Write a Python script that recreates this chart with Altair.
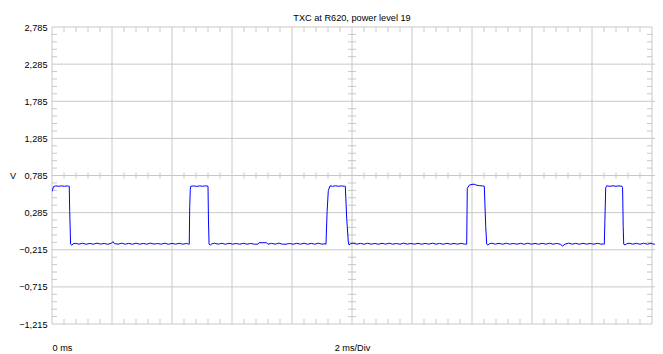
import altair as alt
import pandas as pd

FONT = "Liberation Sans"
FS = 9.2
GRID = "#c8c8c8"
TRACE = "#0000ff"

TITLE = "TXC at R620, power level 19"
Y_TICKS = [-1.215, -0.715, -0.215, 0.285, 0.785, 1.285, 1.785, 2.285, 2.785]
X_MAJOR = [0, 2, 4, 6, 8, 10, 12, 14, 16, 18, 20]
X_LABEL_POS = [0, 10]
X_LABELS = ["0 ms", "2 ms/Div"]
PLOT_W = 603
X_END = PLOT_W / 30.0  # visible time span (ms) of the drawing area
Y_MIN, Y_MAX, Y_CENTER = -1.215, 2.785, 0.785
X_FRAME_END, X_CENTER = 20, 10

# minor tick positions (5 per division)
X_MINOR = [round(i * 0.4, 2) for i in range(1, 50) if i % 5]
Y_MINOR = [round(Y_MIN + i * 0.1, 3) for i in range(1, 40) if i % 5]

# ---- trace (time in ms, volts) ----
pulse1 = [(0.0, 0.57), (0.05, 0.635), (0.12, 0.645), (0.22, 0.64), (0.32, 0.645),
          (0.42, 0.64), (0.52, 0.645), (0.575, 0.64), (0.59, 0.3), (0.62, -0.14),
          (0.66, -0.155), (0.70, -0.135)]
low1 = [(0.78, -0.128), (0.9, -0.14), (1.02, -0.127), (1.14, -0.141), (1.26, -0.13),
        (1.38, -0.14), (1.5, -0.126), (1.62, -0.139), (1.74, -0.13), (1.86, -0.141),
        (1.98, -0.128), (2.03, -0.105), (2.08, -0.132), (2.2, -0.14), (2.32, -0.127),
        (2.44, -0.14), (2.56, -0.129), (2.68, -0.141), (2.8, -0.127), (2.92, -0.14),
        (3.04, -0.13), (3.16, -0.14), (3.28, -0.126), (3.4, -0.139), (3.52, -0.131),
        (3.64, -0.14), (3.76, -0.127), (3.88, -0.141), (4.0, -0.129), (4.12, -0.14),
        (4.24, -0.128), (4.36, -0.14), (4.48, -0.13), (4.55, -0.138)]
pulse2 = [(4.575, -0.14), (4.59, 0.35), (4.61, 0.6), (4.625, 0.64), (4.72, 0.645),
          (4.82, 0.638), (4.92, 0.645), (5.02, 0.64), (5.12, 0.646), (5.2, 0.64),
          (5.215, 0.2), (5.235, -0.14), (5.28, -0.152), (5.33, -0.135)]
low2 = [(5.42, -0.127), (5.54, -0.14), (5.66, -0.128), (5.78, -0.141), (5.9, -0.127),
        (6.02, -0.14), (6.14, -0.13), (6.26, -0.141), (6.38, -0.128), (6.5, -0.14),
        (6.62, -0.13), (6.74, -0.14), (6.86, -0.14), (6.9, -0.12), (7.15, -0.12),
        (7.2, -0.14), (7.32, -0.129), (7.44, -0.14), (7.56, -0.126), (7.68, -0.14),
        (7.8, -0.14), (7.92, -0.13), (8.04, -0.141), (8.16, -0.128), (8.28, -0.14),
        (8.4, -0.127), (8.52, -0.141), (8.64, -0.129), (8.76, -0.14), (8.88, -0.127),
        (9.0, -0.14), (9.1, -0.135)]
pulse3 = [(9.133, -0.14), (9.17, 0.3), (9.21, 0.58), (9.267, 0.645), (9.35, 0.64),
          (9.45, 0.646), (9.55, 0.64), (9.65, 0.645), (9.75, 0.64), (9.777, 0.64),
          (9.823, 0.21), (9.877, -0.11), (9.9, -0.15), (9.95, -0.135)]
low3 = [(10.04, -0.127), (10.16, -0.14), (10.28, -0.129), (10.4, -0.141), (10.52, -0.127),
        (10.64, -0.14), (10.76, -0.13), (10.88, -0.141), (11.0, -0.128), (11.12, -0.14),
        (11.24, -0.127), (11.36, -0.14), (11.48, -0.13), (11.6, -0.141), (11.72, -0.126),
        (11.84, -0.14), (11.96, -0.13), (12.08, -0.14), (12.2, -0.128), (12.32, -0.141),
        (12.44, -0.129), (12.56, -0.14), (12.68, -0.127), (12.8, -0.14), (12.92, -0.13),
        (13.04, -0.141), (13.16, -0.128), (13.28, -0.14), (13.4, -0.13), (13.52, -0.14),
        (13.64, -0.128), (13.76, -0.14), (13.8, -0.138)]
pulse4 = [(13.823, -0.14), (13.843, 0.61), (13.91, 0.655), (14.0, 0.665), (14.07, 0.668),
          (14.15, 0.655), (14.25, 0.648), (14.35, 0.645), (14.41, 0.64), (14.457, 0.1),
          (14.49, -0.14), (14.53, -0.15), (14.58, -0.135)]
low4 = [(14.66, -0.127), (14.78, -0.14), (14.9, -0.128), (15.02, -0.141), (15.14, -0.127),
        (15.26, -0.14), (15.38, -0.13), (15.5, -0.14), (15.62, -0.128), (15.74, -0.141),
        (15.86, -0.127), (15.98, -0.14), (16.1, -0.13), (16.22, -0.141), (16.34, -0.128),
        (16.46, -0.14), (16.58, -0.127), (16.7, -0.14), (16.82, -0.13), (16.94, -0.14),
        (17.02, -0.165), (17.1, -0.14), (17.22, -0.126), (17.34, -0.14), (17.46, -0.129),
        (17.58, -0.141), (17.7, -0.128), (17.82, -0.14), (17.94, -0.13), (18.06, -0.14),
        (18.18, -0.128), (18.3, -0.14), (18.39, -0.138)]
pulse5 = [(18.41, -0.14), (18.457, 0.62), (18.49, 0.645), (18.6, 0.64), (18.7, 0.646),
          (18.8, 0.64), (18.9, 0.645), (19.0, 0.64), (19.02, 0.62), (19.04, 0.1),
          (19.057, -0.14), (19.1, -0.15), (19.15, -0.135)]
low5 = [(19.24, -0.127), (19.36, -0.14), (19.48, -0.128), (19.6, -0.141), (19.72, -0.127),
        (19.84, -0.14), (19.96, -0.13), (20.08, -0.141), (20.2, -0.128), (20.3, -0.14),
        (20.37, -0.135)]

segments = [pulse1, low1, pulse2, low2, pulse3, low3, pulse4, low4, pulse5, low5]
trace = pd.DataFrame([p for seg in segments for p in seg], columns=["t", "v"])

XS = alt.Scale(domain=[0, X_END], nice=False, zero=False)
YS = alt.Scale(domain=[Y_MIN, Y_MAX], nice=False, zero=False)

X_AXIS = alt.Axis(
    values=X_LABEL_POS,
    labelExpr="datum.value == 0 ? '%s' : '%s'" % (X_LABELS[0], X_LABELS[1]),
    labelAlign={"condition": {"test": "datum.value == 0", "value": "left"}, "value": "center"},
    labelBaseline="top",
    labelPadding=19,
    labelFont=FONT, labelFontSize=FS, labelColor="black",
    labelOverlap=False, labelFlush=False,
    grid=False, ticks=False, domain=False, title="",
)
Y_AXIS = alt.Axis(
    values=Y_TICKS,
    labelExpr="replace(format(datum.value, '.3f'), '.', ',')",
    labelFont=FONT, labelFontSize=FS, labelColor="black",
    labelPadding=5, labelOverlap=False, labelFlush=False,
    grid=False, ticks=False, domain=False,
    title="V", titleAngle=0, titleX=-39.5, titleY=148.5,
    titleAlign="center", titleBaseline="middle",
    titleFont=FONT, titleFontSize=FS, titleFontWeight="normal", titleColor="black",
)


def X(f):
    return alt.X(f, type="quantitative", scale=XS, axis=X_AXIS)


def Y(f):
    return alt.Y(f, type="quantitative", scale=YS, axis=Y_AXIS)


# grid / frame
vgrid = alt.Chart(pd.DataFrame({"t": X_MAJOR, "y0": Y_MIN, "y1": Y_MAX})).mark_rule(
    color=GRID, strokeWidth=1).encode(x=X("t"), y=Y("y0"), y2="y1")
hgrid = alt.Chart(pd.DataFrame({"v": Y_TICKS[1:-1], "x0": 0.0, "x1": X_END})).mark_rule(
    color=GRID, strokeWidth=1).encode(y=Y("v"), x=X("x0"), x2="x1")
hframe = alt.Chart(pd.DataFrame({"v": [Y_MIN, Y_MAX], "x0": 0.0, "x1": X_FRAME_END})).mark_rule(
    color=GRID, strokeWidth=1).encode(y=Y("v"), x=X("x0"), x2="x1")

# minor ticks
xm = pd.DataFrame({"t": X_MINOR, "yt": Y_MAX, "yb": Y_MIN, "yc": Y_CENTER})
ym = pd.DataFrame({"v": Y_MINOR, "xl": 0.0, "xr": X_FRAME_END, "xc": X_CENTER})
top_ticks = alt.Chart(xm).mark_rule(color=GRID, y2Offset=5).encode(x=X("t"), y=Y("yt"), y2="yt")
bot_ticks = alt.Chart(xm).mark_rule(color=GRID, y2Offset=-5).encode(x=X("t"), y=Y("yb"), y2="yb")
mid_xticks = alt.Chart(xm).mark_rule(color=GRID, yOffset=-3, y2Offset=3).encode(
    x=X("t"), y=Y("yc"), y2="yc")
left_ticks = alt.Chart(ym).mark_rule(color=GRID, x2Offset=5).encode(y=Y("v"), x=X("xl"), x2="xl")
right_ticks = alt.Chart(ym).mark_rule(color=GRID, x2Offset=-5).encode(y=Y("v"), x=X("xr"), x2="xr")
mid_yticks = alt.Chart(ym).mark_rule(color=GRID, xOffset=-4, x2Offset=4).encode(
    y=Y("v"), x=X("xc"), x2="xc")

line = alt.Chart(trace).mark_line(color=TRACE, strokeWidth=1, clip=True).encode(
    x=X("t"), y=Y("v"))

chart = alt.layer(
    vgrid, hgrid, hframe, top_ticks, bot_ticks, mid_xticks,
    left_ticks, right_ticks, mid_yticks, line,
).properties(
    width=PLOT_W, height=297,
    title=alt.TitleParams(TITLE, font=FONT, fontSize=FS, fontWeight="normal", color="black",
                          anchor="middle", frame="group", dx=-1.5, offset=-7,
                          baseline="alphabetic"),
    padding={"left": 44, "top": 19, "right": 0, "bottom": 30},
    autosize=alt.AutoSizeParams(type="none"),
    background="white",
).configure_view(strokeWidth=0)

chart.save("out.html", embed_options={"renderer": "svg", "actions": False})
